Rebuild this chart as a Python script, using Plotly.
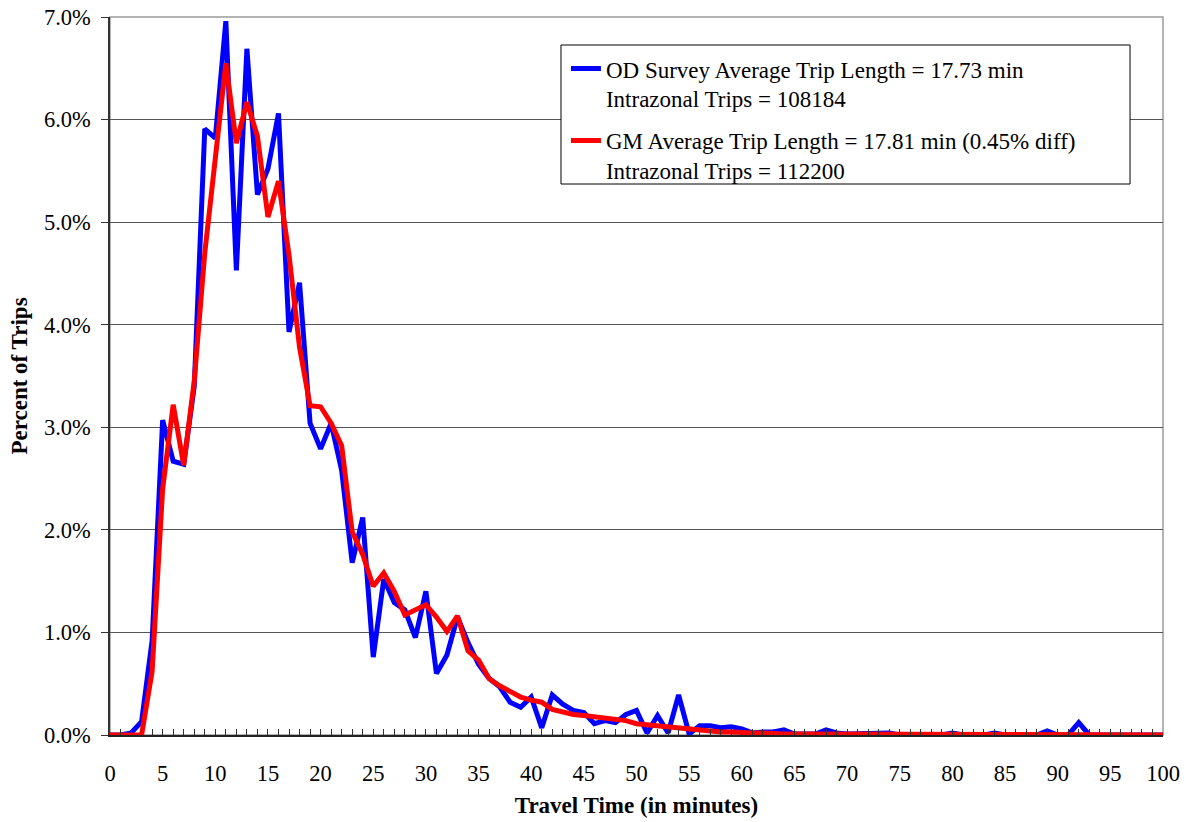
import plotly.graph_objects as go

# Travel time bins (minutes)
minutes = list(range(0, 101))

# Percent of trips by travel time, observed (OD survey)
od_survey_pct = [
    0.00, 0.00, 0.02, 0.13, 0.92, 3.07, 2.67, 2.64, 3.40, 5.91,
    5.82, 6.96, 4.53, 6.69, 5.27, 5.52, 6.06, 3.93, 4.41, 3.04,
    2.79, 3.04, 2.58, 1.68, 2.12, 0.76, 1.52, 1.29, 1.22, 0.95,
    1.40, 0.60, 0.78, 1.15, 0.90, 0.69, 0.55, 0.47, 0.32, 0.27,
    0.37, 0.07, 0.39, 0.30, 0.24, 0.22, 0.11, 0.14, 0.12, 0.20,
    0.24, 0.02, 0.19, 0.02, 0.39, 0.01, 0.09, 0.09, 0.07, 0.08,
    0.06, 0.02, 0.03, 0.03, 0.05, 0.01, 0.01, 0.01, 0.05, 0.02,
    0.01, 0.01, 0.01, 0.01, 0.02, 0.00, 0.00, 0.00, 0.00, 0.00,
    0.02, 0.00, 0.00, 0.00, 0.02, 0.00, 0.00, 0.00, 0.00, 0.04,
    0.00, 0.00, 0.12, 0.00, 0.00, 0.00, 0.00, 0.00, 0.00, 0.00,
    0.00,
]

# Percent of trips by travel time, gravity model
gm_pct = [
    0.00, 0.00, 0.00, 0.00, 0.62, 2.40, 3.22, 2.63, 3.45, 4.70,
    5.62, 6.55, 5.77, 6.17, 5.84, 5.05, 5.40, 4.68, 3.78, 3.21,
    3.20, 3.04, 2.82, 1.98, 1.76, 1.45, 1.58, 1.40, 1.17, 1.22,
    1.27, 1.15, 1.01, 1.16, 0.82, 0.73, 0.55, 0.48, 0.42, 0.37,
    0.34, 0.32, 0.25, 0.22, 0.20, 0.19, 0.18, 0.17, 0.16, 0.14,
    0.11, 0.10, 0.09, 0.08, 0.07, 0.06, 0.04, 0.04, 0.03, 0.03,
    0.02, 0.02, 0.02, 0.01, 0.01, 0.01, 0.01, 0.01, 0.01, 0.01,
    0.01, 0.00, 0.00, 0.00, 0.00, 0.00, 0.00, 0.00, 0.00, 0.00,
    0.00, 0.00, 0.00, 0.00, 0.00, 0.00, 0.00, 0.00, 0.00, 0.00,
    0.00, 0.00, 0.00, 0.00, 0.00, 0.00, 0.00, 0.00, 0.00, 0.00,
    0.00,
]

od_label = "OD Survey Average Trip Length = 17.73 min<br>Intrazonal Trips = 108184"
gm_label = "GM Average Trip Length = 17.81 min (0.45% diff)<br>Intrazonal Trips = 112200"

FONT = "Liberation Serif"

fig = go.Figure()
fig.add_trace(go.Scatter(
    x=minutes, y=od_survey_pct, mode="lines", name=od_label, legendgroup="od",
    line=dict(color="#0000FF", width=5),
))
fig.add_trace(go.Scatter(
    x=minutes, y=gm_pct, mode="lines", name=gm_label, legendgroup="gm",
    line=dict(color="#FF0000", width=5),
))

fig.update_layout(
    width=1186, height=822,
    margin=dict(l=110, r=23, t=17, b=87, autoexpand=False),
    paper_bgcolor="white", plot_bgcolor="white",
    font=dict(family=FONT, size=22, color="black"),
    showlegend=True,
    legend=dict(
        x=0.433, y=0.958, xanchor="left", yanchor="top",
        bgcolor="rgba(0,0,0,0)", borderwidth=0,
        font=dict(family=FONT, size=23, color="black"),
        valign="top", tracegroupgap=9,
    ),
    shapes=[
        # plot-area frame
        dict(type="rect", xref="paper", yref="paper", x0=0, y0=0, x1=1, y1=1,
             line=dict(color="#9a9a9a", width=1.5), layer="below"),
        # legend frame
        dict(type="rect", xref="paper", yref="paper",
             x0=0.4283, x1=0.9687, y0=0.7674, y1=0.961,
             line=dict(color="black", width=1), fillcolor="white", layer="above"),
    ],
)

fig.update_xaxes(
    range=[0, 100], dtick=5, tick0=0, automargin=False,
    ticks="inside", ticklen=6, tickcolor="#333", tickwidth=1,
    minor=dict(dtick=1, ticks="inside", ticklen=6, tickcolor="#333", tickwidth=1),
    showgrid=False, zeroline=False,
    showline=True, linecolor="#222", linewidth=1.5,
    ticklabelstandoff=17,
    tickfont=dict(family=FONT, size=22.5),
    title=dict(text="<b>Travel Time (in minutes)</b>", font=dict(family=FONT, size=23),
               standoff=12),
)

fig.update_yaxes(
    range=[0, 7], dtick=1, tickformat=".1f", ticksuffix="%", automargin=False,
    ticks="outside", ticklen=7, tickcolor="#333", tickwidth=1,
    showgrid=True, gridcolor="#555", gridwidth=1,
    zeroline=False,
    showline=True, linecolor="#333", linewidth=1.5,
    ticklabelstandoff=6,
    tickfont=dict(family=FONT, size=22.5),
    title=dict(text="<b>Percent of Trips</b>", font=dict(family=FONT, size=23),
               standoff=10),
)

fig.write_html("out.html")
